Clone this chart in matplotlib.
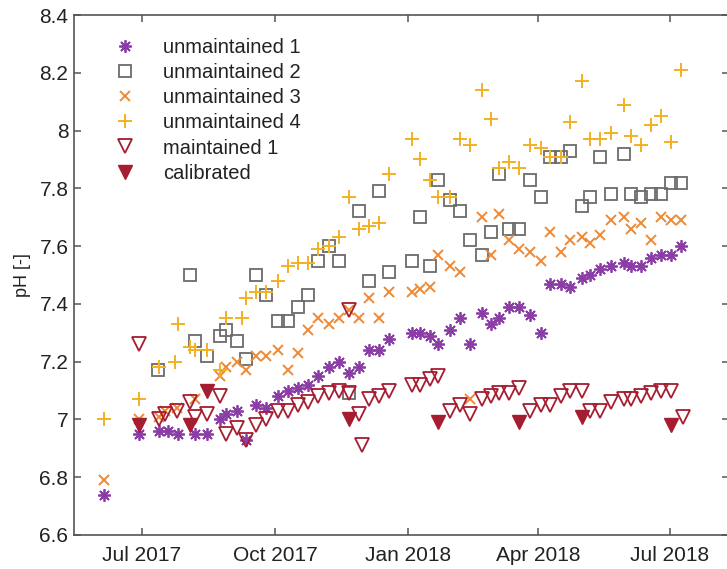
import numpy as np
import pandas as pd
import matplotlib
matplotlib.use("Agg")
import matplotlib.pyplot as plt
import matplotlib.dates as mdates
from matplotlib.ticker import FuncFormatter

plt.rcParams['font.family'] = ['Liberation Sans', 'DejaVu Sans']

# unmaintained sensor 1
u1_dates = ["2017-06-05", "2017-06-29", "2017-07-13", "2017-07-19", "2017-07-26", "2017-08-07",
            "2017-08-15", "2017-08-24", "2017-08-28", "2017-09-05", "2017-09-11", "2017-09-18",
            "2017-09-25", "2017-10-03", "2017-10-10", "2017-10-17", "2017-10-24", "2017-10-31",
            "2017-11-07", "2017-11-14", "2017-11-21", "2017-11-28", "2017-12-05", "2017-12-12",
            "2017-12-19", "2018-01-04", "2018-01-09", "2018-01-16", "2018-01-22", "2018-01-30",
            "2018-02-06", "2018-02-13", "2018-02-21", "2018-02-27", "2018-03-05", "2018-03-12",
            "2018-03-19", "2018-03-26", "2018-04-03", "2018-04-09", "2018-04-17", "2018-04-23",
            "2018-05-01", "2018-05-07", "2018-05-14", "2018-05-21", "2018-05-30", "2018-06-04",
            "2018-06-11", "2018-06-18", "2018-06-25", "2018-07-02", "2018-07-09"]
u1_ph = [6.74, 6.95, 6.96, 6.96, 6.95, 6.95,
         6.95, 7.00, 7.02, 7.03, 6.93, 7.05,
         7.04, 7.08, 7.10, 7.11, 7.12, 7.15,
         7.18, 7.20, 7.16, 7.18, 7.24, 7.24,
         7.28, 7.30, 7.30, 7.29, 7.26, 7.31,
         7.35, 7.26, 7.37, 7.33, 7.35, 7.39,
         7.39, 7.36, 7.30, 7.47, 7.47, 7.46,
         7.49, 7.50, 7.52, 7.53, 7.54, 7.53,
         7.53, 7.56, 7.57, 7.57, 7.60]

# unmaintained sensor 2
u2_dates = ["2017-07-12", "2017-08-03", "2017-08-07", "2017-08-15", "2017-08-24", "2017-08-28",
            "2017-09-05", "2017-09-11", "2017-09-18", "2017-09-25", "2017-10-03", "2017-10-10",
            "2017-10-17", "2017-10-24", "2017-10-31", "2017-11-07", "2017-11-14", "2017-11-21",
            "2017-11-28", "2017-12-05", "2017-12-12", "2017-12-19", "2018-01-04", "2018-01-09",
            "2018-01-16", "2018-01-22", "2018-01-30", "2018-02-06", "2018-02-13", "2018-02-21",
            "2018-02-27", "2018-03-05", "2018-03-12", "2018-03-19", "2018-03-26", "2018-04-03",
            "2018-04-09", "2018-04-17", "2018-04-23", "2018-05-01", "2018-05-07", "2018-05-14",
            "2018-05-21", "2018-05-30", "2018-06-04", "2018-06-11", "2018-06-18", "2018-06-25",
            "2018-07-02", "2018-07-09"]
u2_ph = [7.17, 7.50, 7.27, 7.22, 7.29, 7.31,
         7.27, 7.21, 7.50, 7.43, 7.34, 7.34,
         7.39, 7.43, 7.55, 7.60, 7.55, 7.09,
         7.72, 7.48, 7.79, 7.51, 7.55, 7.70,
         7.53, 7.83, 7.76, 7.72, 7.62, 7.57,
         7.65, 7.85, 7.66, 7.66, 7.83, 7.77,
         7.91, 7.91, 7.93, 7.74, 7.77, 7.91,
         7.78, 7.92, 7.78, 7.77, 7.78, 7.78,
         7.82, 7.82]

# unmaintained sensor 3
u3_dates = ["2017-06-05", "2017-06-29", "2017-07-13", "2017-07-17", "2017-07-25", "2017-08-07",
            "2017-08-24", "2017-08-28", "2017-09-05", "2017-09-11", "2017-09-18", "2017-09-25",
            "2017-10-03", "2017-10-10", "2017-10-17", "2017-10-24", "2017-10-31", "2017-11-07",
            "2017-11-14", "2017-11-21", "2017-11-28", "2017-12-05", "2017-12-12", "2017-12-19",
            "2018-01-04", "2018-01-09", "2018-01-16", "2018-01-22", "2018-01-30", "2018-02-06",
            "2018-02-13", "2018-02-21", "2018-02-27", "2018-03-05", "2018-03-12", "2018-03-19",
            "2018-03-26", "2018-04-03", "2018-04-09", "2018-04-17", "2018-04-23", "2018-05-01",
            "2018-05-07", "2018-05-14", "2018-05-21", "2018-05-30", "2018-06-04", "2018-06-11",
            "2018-06-18", "2018-06-25", "2018-07-02", "2018-07-09"]
u3_ph = [6.79, 7.00, 7.01, 7.03, 7.04, 7.07,
         7.15, 7.18, 7.20, 7.17, 7.22, 7.22,
         7.24, 7.17, 7.23, 7.31, 7.35, 7.33,
         7.35, 7.38, 7.35, 7.42, 7.35, 7.44,
         7.44, 7.45, 7.46, 7.57, 7.53, 7.51,
         7.07, 7.70, 7.57, 7.71, 7.62, 7.59,
         7.58, 7.55, 7.65, 7.58, 7.62, 7.63,
         7.61, 7.64, 7.69, 7.70, 7.66, 7.68,
         7.62, 7.70, 7.69, 7.69]

# unmaintained sensor 4
u4_dates = ["2017-06-05", "2017-06-29", "2017-07-13", "2017-07-24", "2017-07-26", "2017-08-03",
            "2017-08-07", "2017-08-15", "2017-08-24", "2017-08-28", "2017-09-08", "2017-09-11",
            "2017-09-18", "2017-09-25", "2017-10-03", "2017-10-10", "2017-10-17", "2017-10-24",
            "2017-10-31", "2017-11-07", "2017-11-14", "2017-11-21", "2017-11-28", "2017-12-05",
            "2017-12-12", "2017-12-19", "2018-01-04", "2018-01-09", "2018-01-16", "2018-01-22",
            "2018-01-30", "2018-02-06", "2018-02-13", "2018-02-21", "2018-02-27", "2018-03-05",
            "2018-03-12", "2018-03-19", "2018-03-26", "2018-04-03", "2018-04-09", "2018-04-17",
            "2018-04-23", "2018-05-01", "2018-05-07", "2018-05-14", "2018-05-21", "2018-05-30",
            "2018-06-04", "2018-06-11", "2018-06-18", "2018-06-25", "2018-07-02", "2018-07-09"]
u4_ph = [7.00, 7.07, 7.18, 7.20, 7.33, 7.25,
         7.24, 7.24, 7.17, 7.35, 7.35, 7.42,
         7.44, 7.44, 7.48, 7.53, 7.54, 7.54,
         7.59, 7.60, 7.63, 7.77, 7.66, 7.67,
         7.68, 7.85, 7.97, 7.90, 7.83, 7.77,
         7.77, 7.97, 7.95, 8.14, 8.04, 7.87,
         7.89, 7.87, 7.95, 7.94, 7.91, 7.91,
         8.03, 8.17, 7.97, 7.97, 7.99, 8.09,
         7.98, 7.95, 8.02, 8.05, 7.96, 8.21]

# maintained sensor
m1_dates = ["2017-06-29", "2017-07-13", "2017-07-17", "2017-07-25", "2017-08-03", "2017-08-07",
            "2017-08-15", "2017-08-24", "2017-08-28", "2017-09-05", "2017-09-11", "2017-09-18",
            "2017-09-25", "2017-10-03", "2017-10-10", "2017-10-17", "2017-10-24", "2017-10-31",
            "2017-11-07", "2017-11-14", "2017-11-21", "2017-11-21", "2017-11-28", "2017-11-30",
            "2017-12-05", "2017-12-12", "2017-12-19", "2018-01-04", "2018-01-09", "2018-01-16",
            "2018-01-22", "2018-01-30", "2018-02-06", "2018-02-13", "2018-02-21", "2018-02-27",
            "2018-03-05", "2018-03-12", "2018-03-19", "2018-03-26", "2018-04-03", "2018-04-09",
            "2018-04-17", "2018-04-23", "2018-05-01", "2018-05-07", "2018-05-14", "2018-05-21",
            "2018-05-30", "2018-06-04", "2018-06-11", "2018-06-18", "2018-06-25", "2018-07-02",
            "2018-07-10"]
m1_ph = [7.26, 7.00, 7.02, 7.03, 7.06, 7.01,
         7.02, 7.08, 6.95, 6.97, 6.93, 6.98,
         7.00, 7.03, 7.03, 7.05, 7.06, 7.08,
         7.09, 7.10, 7.38, 7.09, 7.02, 6.91,
         7.07, 7.08, 7.10, 7.12, 7.12, 7.14,
         7.15, 7.03, 7.05, 7.02, 7.07, 7.08,
         7.09, 7.09, 7.11, 7.03, 7.05, 7.05,
         7.08, 7.10, 7.10, 7.03, 7.03, 7.06,
         7.07, 7.07, 7.08, 7.09, 7.10, 7.10,
         7.01]

# readings right after calibration
cal_dates = ["2017-06-29", "2017-08-03", "2017-08-15", "2017-11-21",
             "2018-01-22", "2018-03-19", "2018-05-01", "2018-07-02"]
cal_ph = [6.98, 6.98, 7.10, 7.00, 6.99, 6.99, 7.01, 6.98]

tick_dates = ["2017-07-01", "2017-10-01", "2018-01-01", "2018-04-01", "2018-07-01"]

fig = plt.figure(figsize=(7.27, 5.69), dpi=100)
ax = fig.add_axes([0.1018, 0.0598, 0.9012, 0.9138])

ax.plot(pd.to_datetime(u1_dates), u1_ph, ls='none', marker=(8, 2, 0), ms=9, mew=1.3,
        color='#8B3DA6', label='unmaintained 1')
ax.plot(pd.to_datetime(u2_dates), u2_ph, ls='none', marker='s', ms=8, mew=1.3,
        mfc='none', color='#6B6B6B', label='unmaintained 2')
ax.plot(pd.to_datetime(u3_dates), u3_ph, ls='none', marker='x', ms=7.5, mew=1.4,
        color='#EE8A35', label='unmaintained 3')
ax.plot(pd.to_datetime(u4_dates), u4_ph, ls='none', marker='+', ms=10, mew=1.4,
        color='#F2B120', label='unmaintained 4')
ax.plot(pd.to_datetime(m1_dates), m1_ph, ls='none', marker='v', ms=10.5, mew=1.3,
        mfc='none', color='#A51D30', label='maintained 1')
ax.plot(pd.to_datetime(cal_dates), cal_ph, ls='none', marker='v', ms=10.5, mew=1.0,
        color='#A51D30', label='calibrated')

ax.set_xlim(pd.Timestamp("2017-05-15"), pd.Timestamp("2018-08-11"))
ax.set_ylim(6.6, 8.4)
ax.set_yticks(np.arange(6.6, 8.41, 0.2))
ax.yaxis.set_major_formatter(FuncFormatter(lambda v, p: '%g' % round(v, 1)))
ax.set_xticks(pd.to_datetime(tick_dates))
ax.xaxis.set_major_formatter(mdates.DateFormatter('%b %Y'))

for s in ax.spines.values():
    s.set_color('#555555')
    s.set_linewidth(1.2)
ax.tick_params(direction='in', length=5, width=1.1, color='#555555',
               top=True, right=True, labelsize=15, labelcolor='#222222')
ax.tick_params(axis='x', pad=8)
ax.tick_params(axis='y', pad=4)

ax.set_ylabel('pH [-]', fontsize=13, color='#222222', labelpad=6)

ax.legend(loc='upper left', bbox_to_anchor=(0.02, 0.99), frameon=False, numpoints=1,
          fontsize=14.5, labelspacing=0.3, handlelength=2.0, handletextpad=0.85,
          labelcolor='#222222')

fig.savefig('out.png', dpi=100)
